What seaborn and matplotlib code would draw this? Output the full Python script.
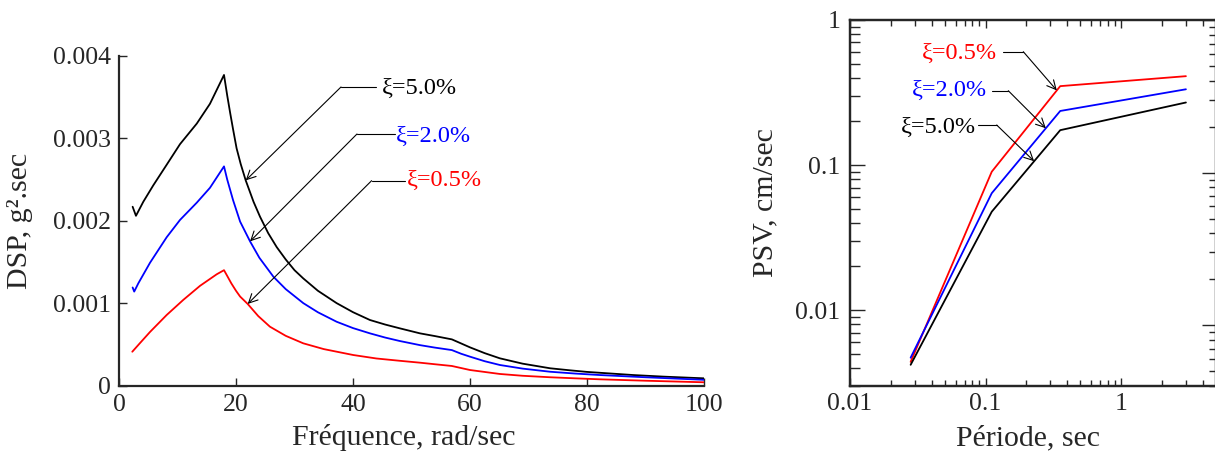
import numpy as np
import pandas as pd
import matplotlib
matplotlib.use("Agg")
import matplotlib.pyplot as plt
import seaborn as sns
from matplotlib.ticker import LogLocator, NullFormatter, FuncFormatter

# ---------------- data ----------------
# Power spectral density (left panel), frequency in rad/sec
freq_k = [2.33, 2.9, 4.15, 5.86, 8.15, 10.43, 13.3, 15.55, 17.95, 18.5, 19.0, 19.5, 20.1, 20.8,
          21.66, 23.0, 24.1, 25.5, 26.96, 28.5, 30.0, 31.5, 34.0, 37.2, 40.0, 42.9, 45.5, 48.0,
          51.45, 54.0, 56.9, 58.5, 60.0, 62.5, 65.1, 69.0, 73.7, 77.0, 80.0, 87.9, 93.0, 100.0]
dsp_k = [0.00217, 0.00206, 0.00223, 0.00243, 0.00268, 0.00293, 0.00318, 0.00342, 0.00377, 0.00352,
         0.00331, 0.00311, 0.00288, 0.00269, 0.00249, 0.00223, 0.00205, 0.00185, 0.00168, 0.00153,
         0.00140, 0.00130, 0.00115, 0.00100, 0.00089, 0.000795, 0.000740, 0.000694, 0.000633,
         0.000600, 0.000560, 0.000510, 0.000463, 0.000393, 0.000330, 0.000265, 0.000209,
         0.000185, 0.000165, 0.000127, 0.000108, 0.000087]

freq_b = [2.33, 2.6, 3.3, 5.3, 8.15, 10.43, 13.3, 15.55, 17.95, 18.5, 19.5, 20.7, 22.4, 24.0,
          26.4, 28.5, 31.5, 34.0, 37.2, 40.0, 42.9, 45.5, 48.0, 51.45, 54.0, 56.9, 58.5, 60.0,
          62.5, 65.1, 69.0, 73.7, 78.0, 82.2, 90.0, 100.0]
dsp_b = [0.00119, 0.00114, 0.00124, 0.00149, 0.00180, 0.00201, 0.00222, 0.00240, 0.00266, 0.00250,
         0.00225, 0.00199, 0.00175, 0.00155, 0.00132, 0.00117, 0.00100, 0.000889, 0.000774,
         0.000697, 0.000633, 0.000582, 0.000540, 0.000490, 0.000460, 0.000430, 0.000385,
         0.000350, 0.000295, 0.000249, 0.000205, 0.000167, 0.000145, 0.000127, 0.000100,
         0.000069]

freq_r = [2.27, 3.5, 5.3, 8.15, 11.0, 13.85, 16.7, 17.95, 18.5, 19.2, 20.0, 20.7, 22.0, 23.8,
          25.8, 28.5, 31.5, 35.0, 40.05, 44.0, 48.0, 51.45, 54.0, 56.9, 60.0, 65.1, 69.0, 73.7,
          78.0, 82.2, 90.0, 100.0]
dsp_r = [0.00041, 0.000508, 0.00065, 0.000856, 0.00104, 0.00121, 0.00135, 0.00140, 0.00133,
         0.00124, 0.00115, 0.00108, 0.00099, 0.000843, 0.000714, 0.000603, 0.000512, 0.000442,
         0.000370, 0.000328, 0.000300, 0.000277, 0.000258, 0.000237, 0.000188, 0.000140,
         0.000118, 0.000100, 0.000087, 0.000075, 0.000058, 0.000039]

# Pseudo-spectral velocity (right panel), period in sec
period = [0.028, 0.111, 0.355, 3.0]
psv_r = [0.0044, 0.090, 0.350, 0.410]
psv_b = [0.0047, 0.064, 0.236, 0.333]
psv_k = [0.0042, 0.0477, 0.174, 0.270]

labels = {"k": "ξ=5.0%", "b": "ξ=2.0%", "r": "ξ=0.5%"}
colors = {"k": "#000000", "b": "#0000ff", "r": "#ff0000"}

dsp_x_ticks = [0, 20, 40, 60, 80, 100]
dsp_y_ticks = [0, 0.001, 0.002, 0.003, 0.004]

# ---------------- style ----------------
sns.set_style("ticks")
plt.rcParams['font.family'] = ['Liberation Serif', 'DejaVu Serif']
SPINE = "#262626"
TICK_FS = 18.5
LABEL_FS = 21.5
NOTE_FS = 17.5

fig = plt.figure(figsize=(12.15, 4.57), dpi=100)
axL = fig.add_axes([119 / 1215, 1 - 385.5 / 457, 585 / 1215, 329.5 / 457])
axR = fig.add_axes([850 / 1215, 1 - 386 / 457, 366 / 1215, 366 / 457])

# ---------------- left panel ----------------
df_dsp = pd.concat([
    pd.DataFrame({"f": freq_k, "v": dsp_k, "s": "k"}),
    pd.DataFrame({"f": freq_b, "v": dsp_b, "s": "b"}),
    pd.DataFrame({"f": freq_r, "v": dsp_r, "s": "r"}),
])
for key in ["k", "b", "r"]:
    sub = df_dsp[df_dsp.s == key]
    sns.lineplot(data=sub, x="f", y="v", ax=axL, color=colors[key], lw=1.3,
                 sort=False, estimator=None)

axL.set_xlim(0, 100)
axL.set_ylim(0, 0.004)
axL.set_xticks(dsp_x_ticks)
axL.set_yticks(dsp_y_ticks)
axL.yaxis.set_major_formatter(FuncFormatter(lambda v, p: "0" if v == 0 else f"{v:.3f}"))
axL.tick_params(direction="in", length=5.5, width=1, labelsize=TICK_FS, pad=6, color=SPINE)
for side in ["top", "right"]:
    axL.spines[side].set_visible(False)
for side in ["left", "bottom"]:
    axL.spines[side].set_linewidth(1.6)
    axL.spines[side].set_color(SPINE)
axL.set_xlabel("Fréquence, rad/sec", fontsize=LABEL_FS)
axL.set_ylabel("DSP, g².sec", fontsize=LABEL_FS)
axL.xaxis.set_label_coords(0.486, -0.118)
axL.yaxis.set_label_coords(-0.147, 0.5)


def callout(ax, text, color, tip, elbow, start, text_xy, ha):
    """Horizontal leader from `start` to `elbow`, then an arrow to `tip` (data coords)."""
    ax.plot([start[0], elbow[0]], [start[1], elbow[1]], transform=ax.transAxes,
            color="black", lw=0.8, clip_on=False)
    ax.annotate("", xy=tip, xycoords="data", xytext=elbow, textcoords="axes fraction",
                arrowprops=dict(arrowstyle="->", color="black", lw=0.8,
                                shrinkA=0, shrinkB=0, mutation_scale=16))
    ax.text(text_xy[0], text_xy[1], text, transform=ax.transAxes, color=color,
            ha=ha, va="center", fontsize=NOTE_FS)


tipL = {
    "k": (21.66, np.interp(21.66, freq_k, dsp_k)),
    "b": (22.4, np.interp(22.4, freq_b, dsp_b)),
    "r": (22.0, np.interp(22.0, freq_r, dsp_r)),
}
callout(axL, labels["k"], colors["k"], tipL["k"], (0.3795, 0.906), (0.4385, 0.906), (0.449, 0.903), "left")
callout(axL, labels["b"], colors["b"], tipL["b"], (0.4068, 0.7633), (0.4718, 0.7633), (0.474, 0.757), "left")
callout(axL, labels["r"], colors["r"], tipL["r"], (0.4318, 0.6216), (0.4889, 0.6216), (0.492, 0.622), "left")

# ---------------- right panel ----------------
df_psv = pd.DataFrame({
    "T": period * 3,
    "v": psv_r + psv_b + psv_k,
    "s": ["r"] * 4 + ["b"] * 4 + ["k"] * 4,
})
for key in ["r", "b", "k"]:
    sub = df_psv[df_psv.s == key]
    sns.lineplot(data=sub, x="T", y="v", ax=axR, color=colors[key], lw=1.3,
                 sort=False, estimator=None)

axR.set_xscale("log")
axR.set_yscale("log")
axR.set_xlim(0.01, 5)
axR.set_ylim(0.003, 1)
fmt = FuncFormatter(lambda v, p: f"{v:g}")
axR.xaxis.set_major_locator(LogLocator(base=10))
axR.yaxis.set_major_locator(LogLocator(base=10))
axR.xaxis.set_minor_locator(LogLocator(base=10, subs=np.arange(2, 10)))
axR.yaxis.set_minor_locator(LogLocator(base=10, subs=np.arange(2, 10)))
axR.xaxis.set_major_formatter(fmt)
axR.yaxis.set_major_formatter(fmt)
axR.xaxis.set_minor_formatter(NullFormatter())
axR.yaxis.set_minor_formatter(NullFormatter())
axR.tick_params(which="both", direction="in", top=True, right=False, color=SPINE, width=1)
axR.tick_params(axis="x", which="major", length=6, labelsize=TICK_FS, pad=5)
axR.tick_params(axis="x", which="minor", length=4)
axR.tick_params(axis="y", which="major", length=11, labelsize=TICK_FS, pad=7)
axR.tick_params(axis="y", which="minor", length=7)
for side in axR.spines:
    axR.spines[side].set_linewidth(1.6)
    axR.spines[side].set_color(SPINE)
axR.set_xlabel("Période, sec", fontsize=LABEL_FS)
axR.set_ylabel("PSV, cm/sec", fontsize=LABEL_FS)
axR.xaxis.set_label_coords(0.486, -0.107)
axR.yaxis.set_label_coords(-0.197, 0.5)

# secondary scale on the right edge (ticks only)
axR2 = axR.twinx()
axR2.set_yscale("log")
axR2.set_ylim(0.004, 1)
axR2.yaxis.set_major_locator(LogLocator(base=10))
axR2.yaxis.set_minor_locator(LogLocator(base=10, subs=np.arange(2, 10)))
axR2.yaxis.set_minor_formatter(NullFormatter())
axR2.tick_params(which="both", direction="in", labelright=False, color=SPINE, width=1)
axR2.tick_params(which="major", length=10)
axR2.tick_params(which="minor", length=5)
for side in axR2.spines:
    axR2.spines[side].set_linewidth(1.6)
    axR2.spines[side].set_color(SPINE)


def loginterp(x, xs, ys):
    return 10 ** np.interp(np.log10(x), np.log10(xs), np.log10(ys))


tipR = {
    "r": (0.335, loginterp(0.335, period, psv_r)),
    "b": (0.278, loginterp(0.278, period, psv_b)),
    "k": (0.228, loginterp(0.228, period, psv_k)),
}
callout(axR, labels["r"], colors["r"], tipR["r"], (0.4735, 0.9134), (0.4189, 0.9134), (0.402, 0.9098), "right")
callout(axR, labels["b"], colors["b"], tipR["b"], (0.4325, 0.8068), (0.3888, 0.8068), (0.373, 0.8068), "right")
callout(axR, labels["k"], colors["k"], tipR["k"], (0.4008, 0.7131), (0.3505, 0.7131), (0.343, 0.7057), "right")

fig.savefig("out.png", dpi=100)
